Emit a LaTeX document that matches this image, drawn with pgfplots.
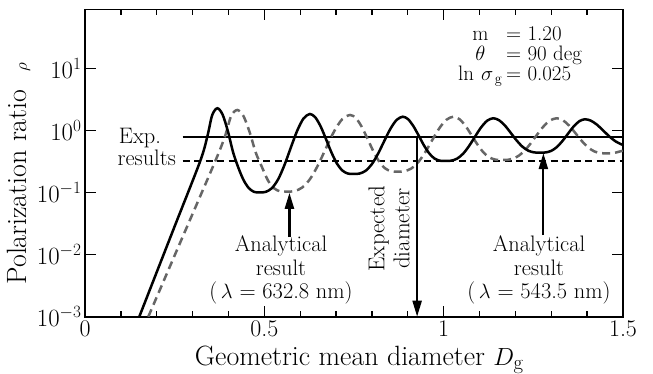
\documentclass[border=0pt]{standalone}
\usepackage{pgfplots}
\pgfplotsset{compat=1.18}
\usetikzlibrary{arrows.meta}
\pgfplotstableread{
x y
0.1514 0.00100
0.2462 0.0251
0.3206 0.313
0.3410 0.794
0.3545 1.75
0.3689 2.27
0.3836 1.798
0.3983 0.973
0.4129 0.4446
0.4275 0.2512
0.4421 0.1585
0.4568 0.1175
0.4714 0.1023
0.4860 0.1000
0.5036 0.1022
0.5213 0.1177
0.5389 0.1647
0.5565 0.2799
0.5741 0.5327
0.5918 0.9927
0.6094 1.558
0.6270 1.837
0.6421 1.619
0.6573 1.148
0.6724 0.7134
0.6875 0.4361
0.7026 0.2909
0.7178 0.2250
0.7329 0.2018
0.7480 0.1986
0.7653 0.2017
0.7825 0.2237
0.7998 0.2858
0.8170 0.4207
0.8343 0.6730
0.8515 1.059
0.8688 1.472
0.8860 1.660
0.9008 1.512
0.9155 1.173
0.9303 0.8256
0.9450 0.5743
0.9598 0.4259
0.9745 0.3522
0.9893 0.3253
1.0040 0.3214
1.0208 0.3252
1.0375 0.3511
1.0543 0.4217
1.0710 0.5629
1.0878 0.7990
1.1045 1.121
1.1213 1.432
1.1380 1.567
1.1544 1.457
1.1708 1.196
1.1871 0.9108
1.2035 0.6870
1.2199 0.5445
1.2363 0.4699
1.2527 0.4416
1.2690 0.4375
1.2846 0.4416
1.3003 0.4690
1.3159 0.5411
1.3315 0.6780
1.3471 0.8916
1.3628 1.162
1.3784 1.408
1.3940 1.510
1.4110 1.428
1.4280 1.226
1.4450 0.9922
1.4620 0.7975
1.4790 0.6664
1.4960 0.5943
1.5000 0.5843
}\solid
\pgfplotstableread{
x y
0.1765 0.00100
0.2700 0.0180
0.3625 0.313
0.3900 0.794
0.4074 1.70
0.4246 2.13
0.4418 1.701
0.4590 0.9371
0.4761 0.4385
0.4933 0.2570
0.5105 0.1549
0.5277 0.1161
0.5448 0.1040
0.5620 0.1030
0.5841 0.1052
0.6063 0.1209
0.6284 0.1678
0.6505 0.2816
0.6726 0.5284
0.6948 0.9700
0.7169 1.507
0.7390 1.770
0.7554 1.572
0.7718 1.135
0.7881 0.7242
0.8045 0.4548
0.8209 0.3101
0.8373 0.2433
0.8536 0.2197
0.8700 0.2163
0.8896 0.2196
0.9093 0.2424
0.9289 0.3067
0.9485 0.4445
0.9681 0.6978
0.9878 1.079
1.0074 1.479
1.0270 1.660
1.0439 1.515
1.0608 1.182
1.0776 0.8386
1.0945 0.5883
1.1114 0.4390
1.1283 0.3648
1.1451 0.3374
1.1620 0.3334
1.1811 0.3373
1.2003 0.3635
1.2194 0.4346
1.2385 0.5763
1.2576 0.8117
1.2768 1.129
1.2959 1.435
1.3150 1.567
1.3325 1.455
1.3500 1.190
1.3675 0.9012
1.3850 0.6758
1.4025 0.5332
1.4200 0.4587
1.4375 0.4306
1.4550 0.4266
1.4731 0.4305
1.4913 0.4578
1.5000 0.4700
}\dashed
\begin{document}
\begin{tikzpicture}
\begin{axis}[
  at={(0,0)}, anchor=south west,
  scale only axis, width=538bp, height=307.4bp,
  xmin=0, xmax=1.5, ymin=1e-3, ymax=89,
  ymode=log,
  axis line style={line width=1.6bp},
  xtick={0,0.5,1,1.5}, xticklabels={0,0.5,1,1.5},
  minor xtick={0.1,0.2,0.3,0.4,0.6,0.7,0.8,0.9,1.1,1.2,1.3,1.4},
  ytick={1e-3,1e-2,1e-1,1,10},
  yminorticks=false,
  tick align=inside,
  major tick length=11bp, minor tick length=5.5bp,
  every tick/.style={line width=1.3bp, black},
  tick label style={font=\fontsize{24}{24}\selectfont},
  xlabel={Geometric mean diameter $D_{\mathrm{g}}$},
  ylabel={Polarization ratio\hspace{18bp}{\fontsize{17}{17}\selectfont$\rho$}},
  label style={font=\fontsize{28}{28}\selectfont},
  every axis y label/.append style={at={(ticklabel cs:0.465)}},
  every axis x label/.append style={at={(ticklabel cs:0.51)}, yshift=-3bp},
  clip mode=individual,
]
\addplot[black, line width=2.3bp] coordinates {(0.272,0.79) (1.5,0.79)};
\addplot[black, line width=2.3bp, dash pattern=on 7bp off 4.5bp] coordinates {(0.272,0.32) (1.5,0.32)};
\addplot[color=black!60, line width=2.5bp, dash pattern=on 8bp off 5bp, smooth, tension=0.5] table[x=x,y=y] {\dashed};
\addplot[black, line width=2.5bp, smooth, tension=0.5] table[x=x,y=y] {\solid};
\draw[line width=2.2bp, -{Triangle[length=16bp,width=9bp]}] (axis cs:0.926,0.79) -- (axis cs:0.926,0.001);
\draw[line width=2.2bp, -{Triangle[length=16bp,width=9bp]}] (axis cs:0.570,0.0192) -- (axis cs:0.570,0.099);
\draw[line width=2.2bp, -{Triangle[length=16bp,width=9bp]}] (axis cs:1.278,0.0205) -- (axis cs:1.278,0.43);
\end{axis}
\begin{scope}[every node/.style={inner sep=0pt, font=\fontsize{22.5}{23.5}\selectfont}]
\node[anchor=north, align=center] at (196bp,81bp) {Analytical\\result\\(\,$\lambda$ = 632.8 nm)};
\node[anchor=north, align=center] at (454bp,81bp) {Analytical\\result\\(\,$\lambda$ = 543.5 nm)};
\node[rotate=90, align=center, font=\fontsize{23}{25}\selectfont] at (304bp,88bp) {Expected\\diameter};
\node[anchor=base] at (55bp,172.7bp) {Exp.};
\node[anchor=base east] at (91bp,150.7bp) {results};
\node[anchor=base west] at (373bp,275.7bp) {\fontsize{21}{21}\selectfont\begin{tabular}[t]{@{}c@{\,}l@{}}m & = 1.20\\[-1bp]$\theta$ & = 90 deg\\[-1bp]ln\,\,$\sigma_{\,\mathrm{g}}$ & = 0.025\end{tabular}};
\end{scope}
\pgfresetboundingbox
\useasboundingbox (-85bp,-57.3bp) rectangle (568bp,316.7bp);
\end{tikzpicture}
\end{document}
